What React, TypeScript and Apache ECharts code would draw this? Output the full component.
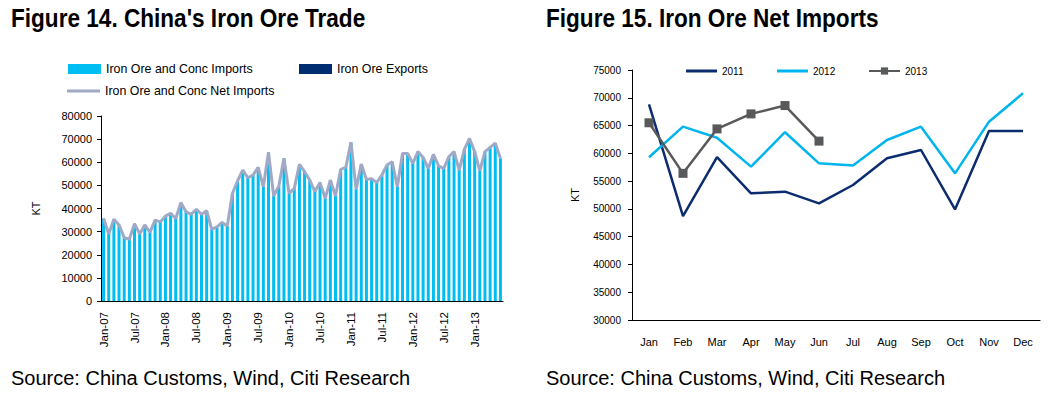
import React, { useEffect, useRef } from 'react';
import * as echarts from 'echarts';

const monthNames = ['Jan', 'Feb', 'Mar', 'Apr', 'May', 'Jun', 'Jul', 'Aug', 'Sep', 'Oct', 'Nov', 'Dec'];
const leftYears = ['07', '08', '09', '10', '11', '12', '13'];
const leftMonthCount = 78; // Jan-07 .. Jun-13

const netImportsKT = [
  35700, 29000, 35400, 32900, 27400, 26700, 33400, 29000, 32900, 29700, 35000, 34200,
  36700, 37900, 35700, 42500, 38600, 37500, 39600, 37500, 39000, 31000, 32100, 34000,
  32400, 46500, 52000, 56600, 53300, 54500, 57800, 49400, 64300, 45400, 49700, 61700,
  46500, 48700, 59100, 55900, 52300, 47300, 51200, 44400, 52300, 45400, 56900, 57800,
  68600, 48400, 59200, 52600, 52900, 51200, 54500, 58800, 60200, 49400, 63800, 63800,
  59500, 64600, 62100, 57300, 63400, 58400, 57300, 62400, 64600, 56600, 65600, 70300,
  64600, 56300, 64600, 66400, 68200, 61700,
];
const exportsKT = [
  0, 0, 0, 0, 0, 0, 0, 0, 0, 0, 0, 0,
  0, 0, 0, 0, 0, 0, 0, 0, 0, 0, 0, 0,
  0, 0, 0, 0, 0, 0, 0, 0, 0, 0, 0, 0,
  0, 0, 0, 0, 0, 0, 0, 0, 0, 0, 0, 0,
  0, 0, 0, 0, 0, 0, 0, 0, 0, 0, 0, 0,
  0, 0, 0, 0, 0, 0, 0, 0, 0, 0, 0, 0,
  0, 0, 0, 0, 0, 0,
];

const net2011 = [68800, 48700, 59300, 52800, 53100, 51000, 54300, 59100, 60600, 49900, 64000, 64000];
const net2012 = [59300, 64800, 62800, 57600, 63800, 58200, 57800, 62400, 64800, 56400, 65700, 70800];
const net2013 = [65500, 56400, 64400, 67100, 68600, 62200];

const REG = '"Liberation Sans", Arial, sans-serif';
const C2011 = '#0B2D6F';
const C2012 = '#00B5EE';
const C2013 = '#58595B';

export default function App() {
  const ref = useRef<HTMLDivElement>(null);
  useEffect(() => {
    if (!ref.current) return;
    const chart = echarts.init(ref.current, null, { renderer: 'svg' });
    const leftCats: string[] = [];
    for (const y of leftYears) {
      for (const m of monthNames) {
        if (leftCats.length < leftMonthCount) leftCats.push(`${m}-${y}`);
      }
    }
    const importsKT = netImportsKT.map((v, i) => v + exportsKT[i]);
    const axisText = { color: '#000', fontFamily: REG };
    const plain = (v: number) => String(v);
    const titleStyle = { font: `bold 25.5px ${REG}`, fill: '#000', textVerticalAlign: 'middle' };
    const srcStyle = { font: `20px ${REG}`, fill: '#000', textVerticalAlign: 'middle' };
    const lgLeft = { selectedMode: false, padding: 5, textStyle: { ...axisText, fontSize: 12.4 } };
    const lgRight = { selectedMode: false, padding: 5, itemWidth: 31, textStyle: { ...axisText, fontSize: 10 } };
    chart.setOption({
      animation: false,
      graphic: [
        { type: 'text', x: 11, y: 18, scaleX: 0.886, style: { text: "Figure 14. China's Iron Ore Trade", ...titleStyle } },
        { type: 'text', x: 546, y: 18, scaleX: 0.886, style: { text: 'Figure 15. Iron Ore Net Imports', ...titleStyle } },
        { type: 'text', x: 11, y: 378, style: { text: 'Source: China Customs, Wind, Citi Research', ...srcStyle } },
        { type: 'text', x: 546, y: 378, style: { text: 'Source: China Customs, Wind, Citi Research', ...srcStyle } },
      ],
      legend: [
        { ...lgLeft, data: [{ name: 'Iron Ore and Conc Imports', icon: 'rect' }], left: 63, top: 58, itemWidth: 33, itemHeight: 10 },
        { ...lgLeft, data: [{ name: 'Iron Ore Exports', icon: 'rect' }], left: 294, top: 58, itemWidth: 33, itemHeight: 10 },
        { ...lgLeft, data: [{ name: 'Iron Ore and Conc Net Imports', icon: 'rect' }], left: 62, top: 80, itemWidth: 33, itemHeight: 3 },
        { ...lgRight, data: [{ name: '2011', icon: 'rect' }], left: 681, top: 61, itemHeight: 3 },
        { ...lgRight, data: [{ name: '2012', icon: 'rect' }], left: 772, top: 61, itemHeight: 3 },
        { ...lgRight, data: ['2013'], left: 863, top: 61, itemHeight: 9 },
      ],
      grid: [
        { left: 101, top: 116, width: 402, height: 185 },
        { left: 632, top: 70, width: 408, height: 250 },
      ],
      xAxis: [
        {
          type: 'category', gridIndex: 0, data: leftCats,
          axisLine: { lineStyle: { color: '#000', width: 1 } },
          axisTick: { interval: 5, length: 4, lineStyle: { color: '#000' } },
          axisLabel: { ...axisText, interval: 5, rotate: 90, fontSize: 11.5, margin: 11 },
        },
        {
          type: 'category', gridIndex: 1, data: monthNames,
          axisLine: { lineStyle: { color: '#000', width: 1 } },
          axisTick: { interval: 0, length: 5, lineStyle: { color: '#000' } },
          axisLabel: { ...axisText, interval: 0, fontSize: 11, margin: 16 },
        },
      ],
      yAxis: [
        {
          type: 'value', gridIndex: 0, min: 0, max: 80000, interval: 10000,
          name: 'KT', nameLocation: 'middle', nameGap: 60, nameTextStyle: { ...axisText, fontSize: 11 },
          axisLine: { show: true, lineStyle: { color: '#000', width: 1 } },
          axisTick: { show: true, length: 4, lineStyle: { color: '#000' } },
          axisLabel: { ...axisText, fontSize: 11, margin: 9, formatter: plain },
          splitLine: { show: false },
        },
        {
          type: 'value', gridIndex: 1, min: 30000, max: 75000, interval: 5000,
          name: 'KT', nameLocation: 'middle', nameGap: 52, nameTextStyle: { ...axisText, fontSize: 11 },
          axisLine: { show: true, lineStyle: { color: '#000', width: 1 } },
          axisTick: { show: true, length: 4, lineStyle: { color: '#000' } },
          axisLabel: { ...axisText, fontSize: 10, margin: 11, formatter: plain },
          splitLine: { show: false },
        },
      ],
      series: [
        { name: 'Iron Ore and Conc Imports', type: 'bar', xAxisIndex: 0, yAxisIndex: 0, data: importsKT, itemStyle: { color: '#00BDF2' }, barCategoryGap: '42%', barGap: '-100%' },
        { name: 'Iron Ore Exports', type: 'bar', xAxisIndex: 0, yAxisIndex: 0, data: exportsKT, itemStyle: { color: '#002D72' }, barCategoryGap: '42%', barGap: '-100%' },
        { name: 'Iron Ore and Conc Net Imports', type: 'line', xAxisIndex: 0, yAxisIndex: 0, data: netImportsKT, symbol: 'none', lineStyle: { color: '#A0A9C6', width: 3 }, itemStyle: { color: '#A0A9C6' }, z: 5 },
        { name: '2011', type: 'line', xAxisIndex: 1, yAxisIndex: 1, data: net2011, symbol: 'none', lineStyle: { color: C2011, width: 2.5 }, itemStyle: { color: C2011 } },
        { name: '2012', type: 'line', xAxisIndex: 1, yAxisIndex: 1, data: net2012, symbol: 'none', lineStyle: { color: C2012, width: 2.5 }, itemStyle: { color: C2012 } },
        { name: '2013', type: 'line', xAxisIndex: 1, yAxisIndex: 1, data: net2013, symbol: 'rect', symbolSize: 9, lineStyle: { color: C2013, width: 2.5 }, itemStyle: { color: C2013 } },
      ],
    });
    return () => chart.dispose();
  }, []);
  return <div ref={ref} style={{ position: 'fixed', left: 0, top: 0, width: 1049, height: 398, background: '#fff' }} />;
}
